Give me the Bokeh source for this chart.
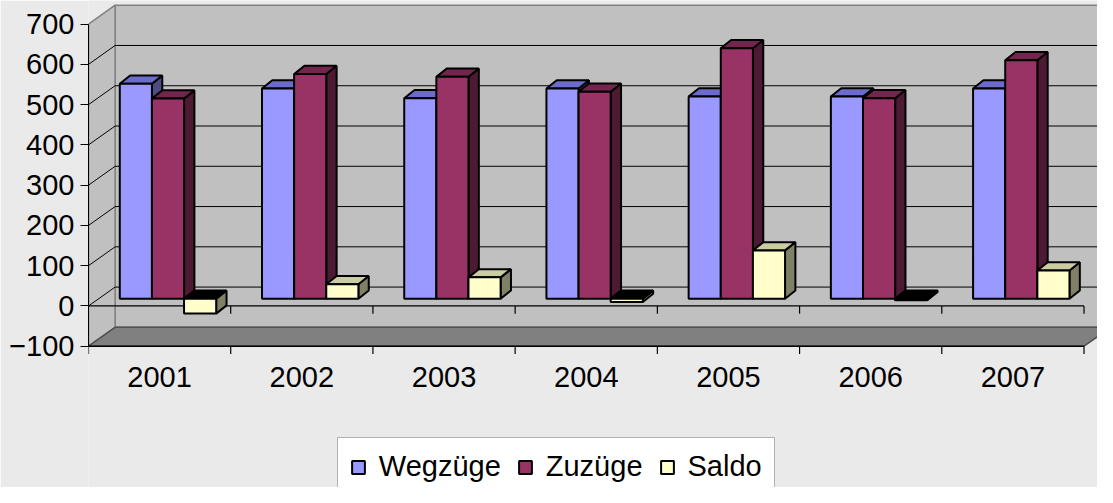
from bokeh.plotting import figure
from bokeh.models import Range1d, LinearAxis, FixedTicker, Legend, LegendItem, ColumnDataSource
from bokeh.core.properties import value
from bokeh.embed import file_html
from bokeh.resources import INLINE

# ---------------- data ----------------
years = ["2001", "2002", "2003", "2004", "2005", "2006", "2007"]
wegzuege = [534, 522, 498, 522, 502, 502, 522]
zuzuege = [497, 558, 551, 514, 622, 498, 592]
saldo = [-37, 36, 53, -8, 120, -4, 70]
series_names = ["Wegzüge", "Zuzüge", "Saldo"]
y_ticks = [-100, 0, 100, 200, 300, 400, 500, 600, 700]

# ---------------- styles / geometry ----------------
FONT = "Liberation Sans"
FS = "29px"
BG = "#EAEAEA"
WALL = "#C0C0C0"
WALL_EDGE = "#808080"
FLOOR = "#808080"
front_cols = ["#9999FF", "#993366", "#FFFFCC"]
top_cols = ["#6B6BCC", "#73264D", "#CCCCA3"]
side_cols = ["#4D4D80", "#4D1A33", "#808066"]

W, H = 1097, 487
SX, SY = W / 1113, H / 503          # layout scale
LEFT = 88                           # frame left (px)
FW, FH = W - LEFT, H
PX_X = 144.29 * SX                  # px per category
PX_Y = 0.4159 * SY                  # px per value unit
ZERO_PX = 315.5 * SY                # zero line distance from top

WX, WY = 27 * SX / PX_X, 19.5 * SY / PX_Y      # wall depth offset
FX, FY = 8.5 * SX / PX_X, 7.5 * SY / PX_Y      # bar front-face offset
DX, DY = 10.5 * SX / PX_X, 8.5 * SY / PX_Y     # bar depth
BW = 32.6 * SX / PX_X                          # bar width
n = len(years)
BAR_OFF = (1 - 3 * BW) / 2
vmin, vmax = y_ticks[0], y_ticks[-1]
TICK = 8 * SY / PX_Y

p = figure(frame_width=FW, frame_height=FH,
           x_range=Range1d(0, FW / PX_X),
           y_range=Range1d(-(FH - ZERO_PX) / PX_Y, ZERO_PX / PX_Y),
           x_axis_type=None, y_axis_type=None,
           output_backend="svg", toolbar_location=None,
           min_border_left=LEFT, min_border_right=0, min_border_top=0, min_border_bottom=0)
p.background_fill_color = BG
p.border_fill_color = BG
p.outline_line_color = None

yaxis = LinearAxis(ticker=FixedTicker(ticks=y_ticks), bounds=(vmin, vmax),
                   major_tick_out=8, major_tick_in=0, major_label_standoff=6,
                   major_label_text_font=FONT, major_label_text_font_size=FS,
                   major_label_text_color="black", axis_line_color="black",
                   major_tick_line_color="black", minor_tick_line_color=None)
p.add_layout(yaxis, "left")

# walls
p.patch([WX, n + WX, n + WX, WX], [vmin + WY, vmin + WY, vmax + WY, vmax + WY],
        fill_color=WALL, line_color=WALL_EDGE, line_width=1.5)
p.patch([0, 0, WX, WX], [vmin, vmax, vmax + WY, vmin + WY],
        fill_color=WALL, line_color=WALL_EDGE, line_width=1.5)
inner = [v for v in y_ticks if vmin < v < vmax]
p.segment(x0=[WX] * len(inner), y0=[v + WY for v in inner],
          x1=[n + WX] * len(inner), y1=[v + WY for v in inner], line_color="black", line_width=1)
p.segment(x0=[0] * len(inner), y0=inner, x1=[WX] * len(inner), y1=[v + WY for v in inner],
          line_color="black", line_width=1)
# floor
p.patch([0, n, n + WX, WX], [vmin, vmin, vmin + WY, vmin + WY],
        fill_color=FLOOR, line_color="#505050", line_width=1.5)
p.segment(x0=[0], y0=[vmin], x1=[n], y1=[vmin], line_color="black", line_width=1.5)
# category axis at zero + ticks
p.segment(x0=[0], y0=[0], x1=[n], y1=[0], line_color="black", line_width=1.2)
p.segment(x0=list(range(1, n + 1)), y0=[0] * n, x1=list(range(1, n + 1)), y1=[-TICK] * n,
          line_color="black", line_width=1.2)
p.segment(x0=list(range(0, n + 1)), y0=[vmin] * (n + 1), x1=list(range(0, n + 1)),
          y1=[vmin - TICK] * (n + 1), line_color="black", line_width=1.2)

# bars
front_renderers = []
for j, vals in enumerate([wegzuege, zuzuege, saldo]):
    fxs, fys, txs, tys, sxs, sys_, tc = [], [], [], [], [], [], []
    for i, v in enumerate(vals):
        x0 = i + BAR_OFF + j * BW + FX
        x1 = x0 + BW
        lo, hi = min(v, 0) + FY, max(v, 0) + FY
        fxs.append([x0, x1, x1, x0]); fys.append([lo, lo, hi, hi])
        txs.append([x0, x1, x1 + DX, x0 + DX]); tys.append([hi, hi, hi + DY, hi + DY])
        sxs.append([x1, x1 + DX, x1 + DX, x1]); sys_.append([lo, lo + DY, hi + DY, hi])
        tc.append(top_cols[j] if v >= 0 else "#000000")
    p.patches(sxs, sys_, fill_color=side_cols[j], line_color="black", line_width=2)
    p.patches(xs="xs", ys="ys", fill_color="c", line_color="black", line_width=2,
              source=ColumnDataSource(dict(xs=txs, ys=tys, c=tc)))
    r = p.patches(fxs, fys, fill_color=front_cols[j], line_color="black", line_width=2)
    front_renderers.append(r)

# category labels
label_y = vmin - 32 * SY / PX_Y
p.text(x=[i + 0.5 for i in range(n)], y=[label_y] * n, text=years,
       text_align="center", text_baseline="middle", text_color="black",
       text_font=value(FONT), text_font_size=FS)

LEG_H = 58
legend = Legend(items=[LegendItem(label=nm, renderers=[r]) for nm, r in zip(series_names, front_renderers)],
                orientation="horizontal", glyph_width=16, glyph_height=16,
                label_standoff=13, spacing=16, padding=12,
                label_text_font=FONT, label_text_font_size=FS, label_text_color="black",
                border_line_color="#666666", border_line_width=1.5,
                background_fill_color="white", background_fill_alpha=1.0,
                location=(341.7 * SX - LEFT, FH - 452.7 * SY - LEG_H))
p.add_layout(legend)

open("out.html", "w").write(file_html(p, INLINE))
